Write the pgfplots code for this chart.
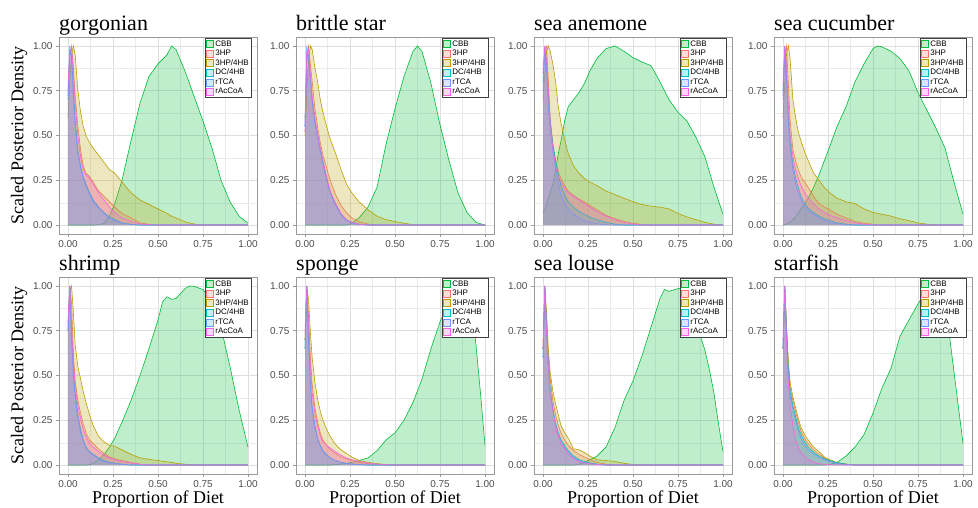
\documentclass[border=0pt]{standalone}
\usepackage{fontspec}
\setmainfont{Liberation Serif}
\newfontfamily\arial{Liberation Sans}
\usepackage{pgfplots}
\usepackage{pgfplotstable}
\pgfplotsset{compat=1.18}

\definecolor{cCBB}{HTML}{00BA38}
\definecolor{cHP}{HTML}{F8766D}
\definecolor{cHPHB}{HTML}{B79F00}
\definecolor{cDC}{HTML}{00BFC4}
\definecolor{cTCA}{HTML}{619CFF}
\definecolor{cACC}{HTML}{F564E3}
\definecolor{frame}{HTML}{9A9A9A}
\definecolor{grey87}{HTML}{DEDEDE}
\definecolor{grey30}{HTML}{4D4D4D}

% scaled posterior densities, one table per consumer
\pgfplotstableread{
x     cbb   hp    hphb  dc    rtca  racc
0     0     0.75  0.60  0.70  0.72  0.78
0.01  0     0.95  0.80  0.97  1.00  0.98
0.02  0     1.00  0.95  0.95  0.92  0.98
0.03  0     0.88  1.00  0.75  0.72  0.85
0.04  0     0.72  0.95  0.58  0.55  0.68
0.055 0     0.55  0.75  0.42  0.40  0.50
0.07  0     0.42  0.63  0.33  0.32  0.38
0.085 0     0.33  0.55  0.27  0.26  0.31
0.10  0     0.29  0.50  0.23  0.22  0.28
0.12  0     0.27  0.46  0.18  0.17  0.26
0.14  0     0.24  0.43  0.14  0.13  0.23
0.17  0.002 0.19  0.39  0.10  0.095 0.18
0.20  0.01  0.16  0.35  0.07  0.065 0.14
0.23  0.05  0.13  0.31  0.045 0.04  0.10
0.26  0.12  0.10  0.29  0.03  0.025 0.07
0.30  0.25  0.065 0.24  0.012 0.01  0.04
0.35  0.47  0.04  0.18  0.004 0.003 0.02
0.40  0.68  0.012 0.14  0     0     0.006
0.45  0.83  0.004 0.115 0     0     0.002
0.50  0.90  0     0.09  0     0     0
0.55  0.95  0     0.065 0     0     0
0.575 1.00  0     0.05  0     0     0
0.60  0.98  0     0.04  0     0     0
0.65  0.86  0     0.018 0     0     0
0.70  0.72  0     0.006 0     0     0
0.75  0.58  0     0     0     0     0
0.80  0.43  0     0     0     0     0
0.85  0.25  0     0     0     0     0
0.90  0.13  0     0     0     0     0
0.95  0.05  0     0     0     0     0
1.00  0.01  0     0     0     0     0
}\gorgonian

\pgfplotstableread{
x     cbb   hp    hphb  dc    rtca  racc
0     0     0.60  0.50  0.55  0.55  0.52
0.01  0     0.92  0.75  0.95  1.00  0.97
0.02  0     1.00  0.92  0.95  0.93  0.98
0.03  0     0.90  1.00  0.82  0.80  0.84
0.04  0     0.80  0.98  0.70  0.69  0.72
0.055 0     0.65  0.88  0.58  0.57  0.60
0.07  0     0.55  0.80  0.50  0.49  0.51
0.085 0     0.46  0.70  0.42  0.41  0.43
0.10  0     0.39  0.63  0.35  0.34  0.36
0.12  0     0.32  0.55  0.26  0.25  0.27
0.14  0     0.25  0.48  0.18  0.18  0.19
0.17  0     0.17  0.40  0.12  0.11  0.12
0.20  0     0.11  0.31  0.06  0.055 0.065
0.23  0     0.07  0.23  0.03  0.025 0.03
0.26  0.01  0.04  0.18  0.015 0.012 0.015
0.30  0.04  0.02  0.13  0.005 0.004 0.005
0.35  0.10  0.006 0.085 0     0     0
0.40  0.21  0     0.05  0     0     0
0.45  0.45  0     0.03  0     0     0
0.50  0.65  0     0.02  0     0     0
0.55  0.83  0     0.01  0     0     0
0.60  0.97  0     0.003 0     0     0
0.625 1.00  0     0     0     0     0
0.65  0.97  0     0     0     0     0
0.70  0.79  0     0     0     0     0
0.75  0.56  0     0     0     0     0
0.80  0.36  0     0     0     0     0
0.85  0.18  0     0     0     0     0
0.90  0.07  0     0     0     0     0
0.95  0.015 0     0     0     0     0
1.00  0     0     0     0     0     0
}\brittlestar

\pgfplotstableread{
x     cbb   hp    hphb  dc    rtca  racc
0     0.07  0.85  0.70  0.80  0.75  0.85
0.01  0.09  0.98  0.85  0.98  1.00  1.00
0.02  0.12  1.00  0.97  0.90  0.85  0.92
0.03  0.15  0.80  1.00  0.72  0.65  0.75
0.04  0.18  0.60  0.97  0.58  0.52  0.57
0.055 0.23  0.45  0.90  0.45  0.41  0.43
0.07  0.31  0.36  0.80  0.36  0.32  0.33
0.085 0.40  0.30  0.66  0.28  0.23  0.27
0.10  0.47  0.26  0.57  0.22  0.17  0.24
0.12  0.58  0.22  0.48  0.17  0.12  0.21
0.14  0.66  0.19  0.40  0.13  0.09  0.18
0.17  0.70  0.165 0.33  0.10  0.06  0.16
0.20  0.74  0.145 0.29  0.075 0.04  0.14
0.23  0.79  0.13  0.26  0.06  0.025 0.12
0.26  0.86  0.11  0.24  0.045 0.015 0.10
0.30  0.93  0.085 0.22  0.03  0.008 0.075
0.35  0.985 0.055 0.19  0.015 0.002 0.05
0.40  1.00  0.035 0.17  0.005 0     0.03
0.45  0.97  0.02  0.15  0     0     0.015
0.50  0.935 0.01  0.13  0     0     0.006
0.55  0.91  0.004 0.115 0     0     0
0.60  0.89  0     0.105 0     0     0
0.65  0.80  0     0.10  0     0     0
0.70  0.70  0     0.09  0     0     0
0.75  0.63  0     0.065 0     0     0
0.80  0.58  0     0.045 0     0     0
0.85  0.49  0     0.03  0     0     0
0.90  0.38  0     0.015 0     0     0
0.95  0.21  0     0.005 0     0     0
1.00  0.06  0     0     0     0     0
}\seaanemone

\pgfplotstableread{
x     cbb   hp    hphb  dc    rtca  racc
0     0     0.70  0.60  0.75  0.72  0.78
0.01  0.003 0.95  0.80  1.00  1.00  1.00
0.02  0.006 1.00  0.96  0.82  0.80  0.88
0.03  0.01  0.78  1.00  0.60  0.57  0.66
0.04  0.015 0.58  0.92  0.46  0.43  0.50
0.055 0.03  0.42  0.70  0.34  0.31  0.38
0.07  0.045 0.36  0.60  0.26  0.23  0.31
0.085 0.07  0.31  0.52  0.21  0.18  0.26
0.10  0.09  0.27  0.47  0.16  0.14  0.22
0.12  0.12  0.24  0.41  0.12  0.10  0.18
0.14  0.15  0.21  0.36  0.095 0.08  0.15
0.17  0.21  0.16  0.29  0.07  0.06  0.12
0.20  0.28  0.12  0.25  0.05  0.04  0.09
0.23  0.36  0.10  0.21  0.035 0.025 0.07
0.26  0.44  0.085 0.18  0.025 0.015 0.055
0.30  0.55  0.06  0.15  0.012 0.007 0.04
0.35  0.66  0.04  0.13  0.005 0     0.025
0.40  0.80  0.02  0.12  0     0     0.012
0.45  0.90  0.01  0.09  0     0     0.005
0.50  0.985 0.005 0.07  0     0     0
0.525 1.00  0.002 0.065 0     0     0
0.55  0.995 0     0.06  0     0     0
0.60  0.97  0     0.05  0     0     0
0.65  0.93  0     0.035 0     0     0
0.70  0.86  0     0.025 0     0     0
0.75  0.74  0     0.012 0     0     0
0.80  0.64  0     0.005 0     0     0
0.85  0.54  0     0     0     0     0
0.90  0.43  0     0     0     0     0
0.95  0.24  0     0     0     0     0
1.00  0.06  0     0     0     0     0
}\seacucumber

\pgfplotstableread{
x     cbb   hp    hphb  dc    rtca  racc
0     0     0.75  0.80  0.75  0.75  0.80
0.01  0     1.00  0.97  1.00  1.00  1.00
0.02  0     0.90  1.00  0.72  0.70  0.78
0.03  0     0.62  0.85  0.52  0.50  0.57
0.04  0     0.47  0.67  0.40  0.38  0.44
0.055 0     0.36  0.55  0.28  0.26  0.33
0.07  0     0.29  0.48  0.20  0.18  0.26
0.085 0     0.23  0.41  0.14  0.13  0.20
0.10  0     0.18  0.35  0.10  0.095 0.16
0.12  0.003 0.14  0.28  0.075 0.07  0.12
0.14  0.01  0.12  0.22  0.06  0.055 0.10
0.17  0.03  0.09  0.16  0.04  0.035 0.075
0.20  0.06  0.065 0.13  0.025 0.02  0.055
0.23  0.10  0.045 0.11  0.015 0.012 0.04
0.26  0.15  0.035 0.105 0.01  0.008 0.03
0.30  0.24  0.025 0.085 0.005 0.004 0.02
0.35  0.36  0.015 0.06  0     0     0.012
0.40  0.50  0.005 0.04  0     0     0.005
0.45  0.65  0     0.032 0     0     0
0.50  0.81  0     0.025 0     0     0
0.525 0.91  0     0.022 0     0     0
0.55  0.94  0     0.018 0     0     0
0.575 0.925 0     0.015 0     0     0
0.60  0.93  0     0.01  0     0     0
0.65  0.985 0     0.005 0     0     0
0.675 1.00  0     0.003 0     0     0
0.70  0.998 0     0     0     0     0
0.75  0.98  0     0     0     0     0
0.80  0.91  0     0     0     0     0
0.85  0.77  0     0     0     0     0
0.90  0.55  0     0     0     0     0
0.95  0.31  0     0     0     0     0
1.00  0.10  0     0     0     0     0
}\shrimp

\pgfplotstableread{
x     cbb   hp    hphb  dc    rtca  racc
0     0     0.70  0.70  0.65  0.65  0.75
0.01  0     1.00  1.00  1.00  1.00  1.00
0.02  0     0.82  0.92  0.72  0.70  0.78
0.03  0     0.60  0.74  0.45  0.44  0.55
0.04  0     0.45  0.60  0.32  0.31  0.40
0.055 0     0.32  0.46  0.22  0.21  0.29
0.07  0     0.24  0.37  0.15  0.145 0.22
0.085 0     0.18  0.30  0.11  0.105 0.16
0.10  0     0.14  0.25  0.08  0.075 0.13
0.12  0     0.11  0.20  0.06  0.055 0.11
0.14  0     0.085 0.16  0.04  0.04  0.095
0.17  0.003 0.065 0.115 0.025 0.025 0.075
0.20  0.006 0.045 0.085 0.015 0.015 0.055
0.23  0.01  0.035 0.065 0.01  0.008 0.04
0.26  0.015 0.025 0.045 0.006 0.005 0.03
0.30  0.025 0.015 0.025 0.003 0.002 0.02
0.35  0.04  0.008 0.015 0     0     0.012
0.40  0.08  0.003 0.008 0     0     0.006
0.45  0.14  0     0.003 0     0     0.002
0.50  0.18  0     0     0     0     0
0.55  0.25  0     0     0     0     0
0.60  0.35  0     0     0     0     0
0.65  0.48  0     0     0     0     0
0.70  0.65  0     0     0     0     0
0.75  0.80  0     0     0     0     0
0.80  0.91  0     0     0     0     0
0.85  0.97  0     0     0     0     0
0.90  1.00  0     0     0     0     0
0.925 0.90  0     0     0     0     0
0.95  0.67  0     0     0     0     0
0.975 0.40  0     0     0     0     0
1.00  0.11  0     0     0     0     0
}\sponge

\pgfplotstableread{
x     cbb   hp    hphb  dc    rtca  racc
0     0     0.65  0.65  0.60  0.60  0.65
0.01  0     1.00  1.00  1.00  1.00  1.00
0.02  0     0.80  0.85  0.78  0.77  0.75
0.03  0     0.60  0.64  0.55  0.55  0.55
0.04  0     0.48  0.52  0.42  0.42  0.40
0.055 0     0.36  0.41  0.31  0.31  0.30
0.07  0     0.28  0.34  0.23  0.23  0.22
0.085 0     0.22  0.28  0.18  0.18  0.16
0.10  0     0.18  0.22  0.14  0.14  0.12
0.12  0     0.14  0.18  0.11  0.10  0.09
0.14  0     0.11  0.15  0.08  0.075 0.06
0.17  0     0.08  0.09  0.05  0.045 0.035
0.20  0.005 0.06  0.085 0.03  0.025 0.02
0.23  0.015 0.045 0.07  0.02  0.015 0.012
0.26  0.03  0.03  0.05  0.012 0.01  0.008
0.30  0.05  0.015 0.03  0.005 0.004 0.003
0.35  0.10  0.005 0.025 0     0     0
0.40  0.21  0     0.02  0     0     0
0.45  0.36  0     0.01  0     0     0
0.50  0.47  0     0.003 0     0     0
0.55  0.61  0     0     0     0     0
0.60  0.77  0     0     0     0     0
0.65  0.93  0     0     0     0     0
0.675 0.98  0     0     0     0     0
0.70  0.97  0     0     0     0     0
0.75  0.985 0     0     0     0     0
0.775 0.99  0     0     0     0     0
0.80  0.95  0     0     0     0     0
0.85  0.80  0     0     0     0     0
0.90  0.64  0     0     0     0     0
0.925 0.53  0     0     0     0     0
0.95  0.40  0     0     0     0     0
0.975 0.23  0     0     0     0     0
1.00  0.075 0     0     0     0     0
}\sealouse

\pgfplotstableread{
x     cbb   hp    hphb  dc    rtca  racc
0     0     0.65  0.65  0.65  0.65  0.70
0.01  0     1.00  1.00  1.00  1.00  1.00
0.02  0     0.75  0.78  0.74  0.72  0.68
0.03  0     0.55  0.58  0.53  0.51  0.45
0.04  0     0.43  0.46  0.41  0.39  0.33
0.055 0     0.36  0.38  0.33  0.31  0.22
0.07  0     0.30  0.32  0.27  0.25  0.14
0.085 0     0.24  0.26  0.21  0.19  0.10
0.10  0     0.19  0.21  0.17  0.15  0.07
0.12  0     0.15  0.17  0.13  0.11  0.05
0.14  0     0.12  0.14  0.10  0.085 0.03
0.17  0     0.085 0.10  0.07  0.06  0.015
0.20  0     0.06  0.075 0.05  0.045 0.008
0.23  0     0.04  0.045 0.035 0.03  0.004
0.26  0.003 0.025 0.03  0.025 0.02  0.002
0.30  0.015 0.012 0.015 0.013 0.01  0
0.35  0.05  0.005 0.006 0.005 0.003 0
0.40  0.10  0     0     0     0     0
0.45  0.17  0     0     0     0     0
0.50  0.29  0     0     0     0     0
0.55  0.43  0     0     0     0     0
0.60  0.54  0     0     0     0     0
0.65  0.72  0     0     0     0     0
0.70  0.81  0     0     0     0     0
0.75  0.90  0     0     0     0     0
0.80  0.98  0     0     0     0     0
0.825 1.00  0     0     0     0     0
0.85  0.98  0     0     0     0     0
0.90  0.87  0     0     0     0     0
0.925 0.72  0     0     0     0     0
0.95  0.52  0     0     0     0     0
0.975 0.32  0     0     0     0     0
1.00  0.12  0     0     0     0     0
}\starfish

% one density: translucent fill, then the upper outline
\newcommand{\dens}[3]{%
  \addplot[draw=none, fill=#3, fill opacity=0.25, forget plot] table[x=x, y=#2] {#1} \closedcycle;
  \addplot[#3, line width=0.6pt, forget plot] table[x=x, y=#2] {#1};
}
\newcommand{\alldens}[1]{%
  \dens{#1}{cbb}{cCBB}\dens{#1}{hp}{cHP}\dens{#1}{hphb}{cHPHB}%
  \dens{#1}{dc}{cDC}\dens{#1}{rtca}{cTCA}\dens{#1}{racc}{cACC}}
\newcommand{\keys}{%
  \addlegendimage{sqkey, draw=cCBB, fill=cCBB!25}\addlegendentry{CBB}
  \addlegendimage{sqkey, draw=cHP, fill=cHP!25}\addlegendentry{3HP}
  \addlegendimage{sqkey, draw=cHPHB, fill=cHPHB!25}\addlegendentry{3HP/4HB}
  \addlegendimage{sqkey, draw=cDC, fill=cDC!25}\addlegendentry{DC/4HB}
  \addlegendimage{sqkey, draw=cTCA, fill=cTCA!25}\addlegendentry{rTCA}
  \addlegendimage{sqkey, draw=cACC, fill=cACC!25}\addlegendentry{rAcCoA}}

\pgfplotsset{
  sqkey/.style={legend image code/.code={\draw[line width=0.4pt,##1] (0pt,-3.5pt) rectangle (7pt,3.5pt);}},
  panel/.style={
    scale only axis, width=198pt, height=197pt, anchor=north west,
    xmin=-0.05, xmax=1.05, ymin=-0.05, ymax=1.05,
    xtick={0,0.25,0.5,0.75,1}, ytick={0,0.25,0.5,0.75,1},
    xticklabels={0.00,0.25,0.50,0.75,1.00}, yticklabels={0.00,0.25,0.50,0.75,1.00},
    minor xtick={0.125,0.375,0.625,0.875}, minor ytick={0.125,0.375,0.625,0.875},
    grid=both,
    major grid style={grey87, line width=0.5pt},
    minor grid style={grey87!60, line width=0.3pt},
    minor tick length=0pt, major tick length=3pt, tick align=outside,
    xtick pos=bottom, ytick pos=left,
    tick style={frame, line width=0.5pt},
    axis line style={frame, line width=0.7pt},
    ticklabel style={font=\arial\fontsize{10}{12}\selectfont, text=grey30},
    every axis title shift=0pt,
    title style={at={(0,1)}, anchor=base west, yshift=6.5pt, inner sep=0pt,
      font=\fontsize{22}{26}\selectfont},
    xlabel style={at={(axis description cs:0.5,0)}, anchor=base, yshift=-29pt,
      font=\fontsize{18}{22}\selectfont},
    ylabel style={at={([xshift=-40pt]axis description cs:0,0.5)}, anchor=center,
      font=\fontsize{18}{22}\selectfont},
    legend style={at={(1,1)}, anchor=north east, xshift=-5pt, yshift=-1pt,
      draw=black!75, line width=0.6pt, fill=white,
      font=\arial\fontsize{8}{9}\selectfont, inner sep=1pt, row sep=0pt,
      nodes={inner xsep=2pt, inner ysep=1.2pt}},
    legend cell align=left,
  },
}

\begin{document}
\begin{tikzpicture}
\useasboundingbox (0,0) rectangle (978pt,-508pt);

\begin{axis}[panel, at={(59pt,-37pt)}, title={gorgonian}, ylabel={Scaled Posterior Density}]
\alldens{\gorgonian}\keys
\end{axis}
\begin{axis}[panel, at={(296pt,-37pt)}, title={brittle star}]
\alldens{\brittlestar}\keys
\end{axis}
\begin{axis}[panel, at={(534pt,-37pt)}, title={sea anemone}]
\alldens{\seaanemone}\keys
\end{axis}
\begin{axis}[panel, at={(774pt,-37pt)}, title={sea cucumber}]
\alldens{\seacucumber}\keys
\end{axis}

\begin{axis}[panel, at={(59pt,-277pt)}, title={shrimp}, ylabel={Scaled Posterior Density}, xlabel={Proportion of Diet}]
\alldens{\shrimp}\keys
\end{axis}
\begin{axis}[panel, at={(296pt,-277pt)}, title={sponge}, xlabel={Proportion of Diet}]
\alldens{\sponge}\keys
\end{axis}
\begin{axis}[panel, at={(534pt,-277pt)}, title={sea louse}, xlabel={Proportion of Diet}]
\alldens{\sealouse}\keys
\end{axis}
\begin{axis}[panel, at={(774pt,-277pt)}, title={starfish}, xlabel={Proportion of Diet}]
\alldens{\starfish}\keys
\end{axis}
\end{tikzpicture}
\end{document}
